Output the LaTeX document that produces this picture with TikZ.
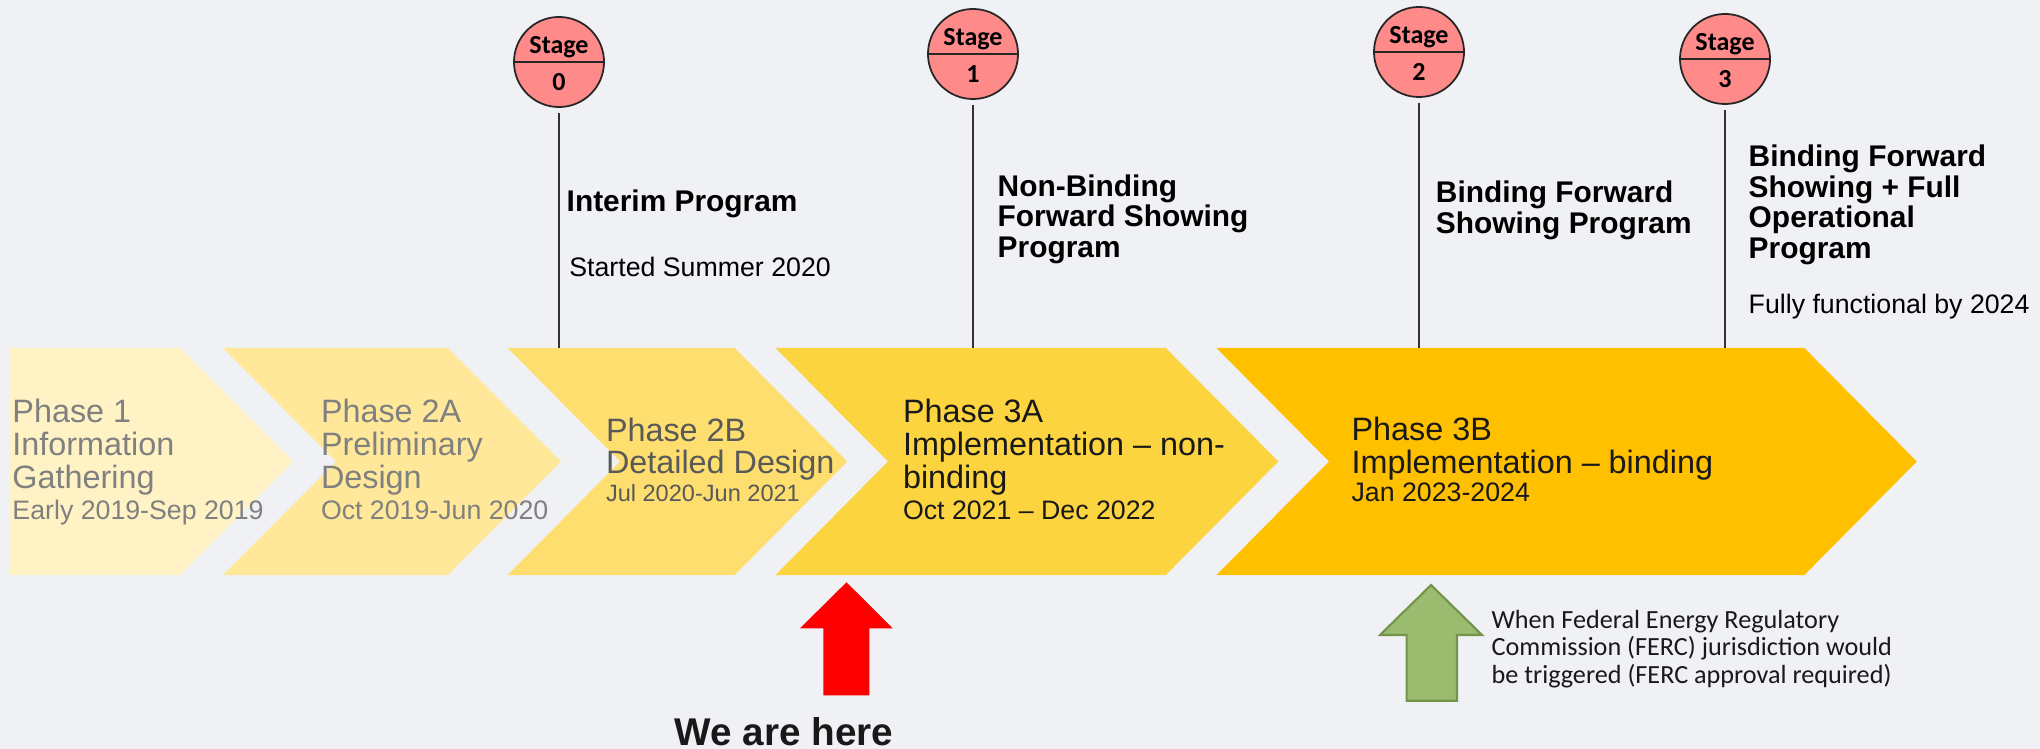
\documentclass[tikz,border=0pt]{standalone}
\usepackage{fontspec}
\setmainfont{Liberation Sans}
\newfontfamily\calibri{Carlito}
\usetikzlibrary{positioning}
\definecolor{bg}{HTML}{F0F1F5}
\definecolor{ph1}{HTML}{FFF2C4}
\definecolor{ph2}{HTML}{FFE89A}
\definecolor{ph3}{HTML}{FDDE6E}
\definecolor{ph4}{HTML}{FCD440}
\definecolor{ph5}{HTML}{FFC000}
\definecolor{stagered}{HTML}{FF8A8A}
\definecolor{fercgreen}{HTML}{9BBB6F}
\definecolor{fercdark}{HTML}{71954A}

\begin{document}
\begin{tikzpicture}[x=0.01cm, y=-0.01cm,
    every node/.style={inner sep=0pt, outer sep=0pt},
    phasetxt/.style={anchor=base west, align=left, font=\fontsize{9.2}{9.3}\selectfont},
    stagecirc/.style={circle, draw=black!85, line width=0.5pt, fill=stagered, minimum size=0.9cm},
    stagelbl/.style={anchor=base, font=\calibri\bfseries\fontsize{7.4}{8}\selectfont},
    progtxt/.style={anchor=base west, align=left, font=\bfseries\fontsize{8.5}{8.7}\selectfont},
    subtxt/.style={anchor=base west, font=\fontsize{7.6}{9}\selectfont},
    stageline/.style={draw=black!80, line width=0.75pt, shorten <=0.06cm}]
	\useasboundingbox (0,0) rectangle (2040,749);
	\fill[bg] (0,0) rectangle (2040,749);

	\fill[ph1] (9,348) -- ++(171,0) -- ++(113,113.5) -- ++(-113,113.5) -- ++(-171,0) -- cycle;
	\fill[ph2] (223,348) -- ++(225,0) -- ++(113,113.5) -- ++(-113,113.5) -- ++(-225,0) -- ++(113,-113.5) -- cycle;
	\fill[ph3] (507.7,348) -- ++(227,0) -- ++(112.5,113.5) -- ++(-112.5,113.5) -- ++(-227,0) -- ++(112.5,-113.5) -- cycle;
	\fill[ph4] (775.5,348) -- ++(390.3,0) -- ++(112.5,113.5) -- ++(-112.5,113.5) -- ++(-390.3,0) -- ++(112.5,-113.5) -- cycle;
	\fill[ph5] (1216.5,348) -- ++(587.8,0) -- ++(112.5,113.5) -- ++(-112.5,113.5) -- ++(-587.8,0) -- ++(112.5,-113.5) -- cycle;

	% anchors sit on the baseline of the last line
	\node[phasetxt, text=black!50] (p1) at (12.5,519.3) {Phase 1\\Information\\Gathering\\[-0.5pt]{\fontsize{7.6}{8.8}\selectfont Early 2019-Sep 2019}};
	\node[phasetxt, text=black!50] (p2a) at (321,519.3) {Phase 2A\\Preliminary\\Design\\[-0.5pt]{\fontsize{7.6}{8.8}\selectfont Oct 2019-Jun 2020}};
	\node[phasetxt, text=black!65] (p2b) at (606,501.7) {Phase 2B\\Detailed Design\\[-1.4pt]{\fontsize{6.7}{7.9}\selectfont Jul 2020-Jun 2021}};
	\node[phasetxt, text=black!90] (p3a) at (903,519.3) {Phase 3A\\Implementation -- non-\\binding\\[-0.5pt]{\fontsize{7.6}{8.8}\selectfont Oct 2021 -- Dec 2022}};
	\node[phasetxt, text=black!90] (p3b) at (1351.6,501.7) {Phase 3B\\Implementation -- binding\\[-1.2pt]{\fontsize{7.6}{8.8}\selectfont Jan 2023-2024}};

	\node[stagecirc] (s0) at (559,62) {};
	\node[stagecirc] (s1) at (973,54) {};
	\node[stagecirc] (s2) at (1419,52) {};
	\node[stagecirc] (s3) at (1725,59) {};
	\foreach \s/\n in {s0/0, s1/1, s2/2, s3/3} {
		\draw[black!85, line width=0.5pt] (\s.west) -- (\s.east);
		\node[stagelbl] (\s top) at ([yshift=0.08cm]\s.center) {Stage};
		\node[stagelbl] (\s num) at ([yshift=-0.28cm]\s.center) {\n};
	}

	\coordinate (t0) at (559,348);
	\coordinate (t1) at (973,348);
	\coordinate (t2) at (1419,348);
	\coordinate (t3) at (1725,348);
	\draw[stageline] (s0) -- (t0);
	\draw[stageline] (s1) -- (t1);
	\draw[stageline] (s2) -- (t2);
	\draw[stageline] (s3) -- (t3);

	\node[progtxt] (prog0) at (566.7,211.7) {Interim Program};
	\node[subtxt] (sub0) at (569.3,276.7) {Started Summer 2020};
	\node[progtxt] (prog1) at (997.7,257.3) {Non-Binding\\Forward Showing\\Program};
	\node[progtxt] (prog2) at (1435.9,233.3) {Binding Forward\\Showing Program};
	\node[progtxt] (prog3) at (1748.7,258.3) {Binding Forward\\Showing + Full\\Operational\\Program};
	\node[subtxt] (sub3) at (1748.7,313.3) {Fully functional by 2024};

	\fill[red] (846.5,582.3) -- (892.7,628.3) -- (869.3,628.3) -- (869.3,695.3) -- (823.3,695.3) -- (823.3,628.3) -- (800,628.3) -- cycle;
	\node[anchor=base, font=\bfseries\fontsize{11}{13}\selectfont, text=black!90] (here) at (784,745) {We are here};

	\filldraw[fill=fercgreen, draw=fercdark, line width=0.6pt] (1431,585) -- (1482,635) -- (1457,635) -- (1457,700.7) -- (1406.6,700.7) -- (1406.6,635) -- (1380,635) -- cycle;
	\node[anchor=base west, align=left, font=\calibri\fontsize{7.45}{7.8}\selectfont, text=black!90] (ferc) at (1491.6,683.3) {When Federal Energy Regulatory\\Commission (FERC) jurisdiction would\\be triggered (FERC approval required)};
\end{tikzpicture}
\end{document}
